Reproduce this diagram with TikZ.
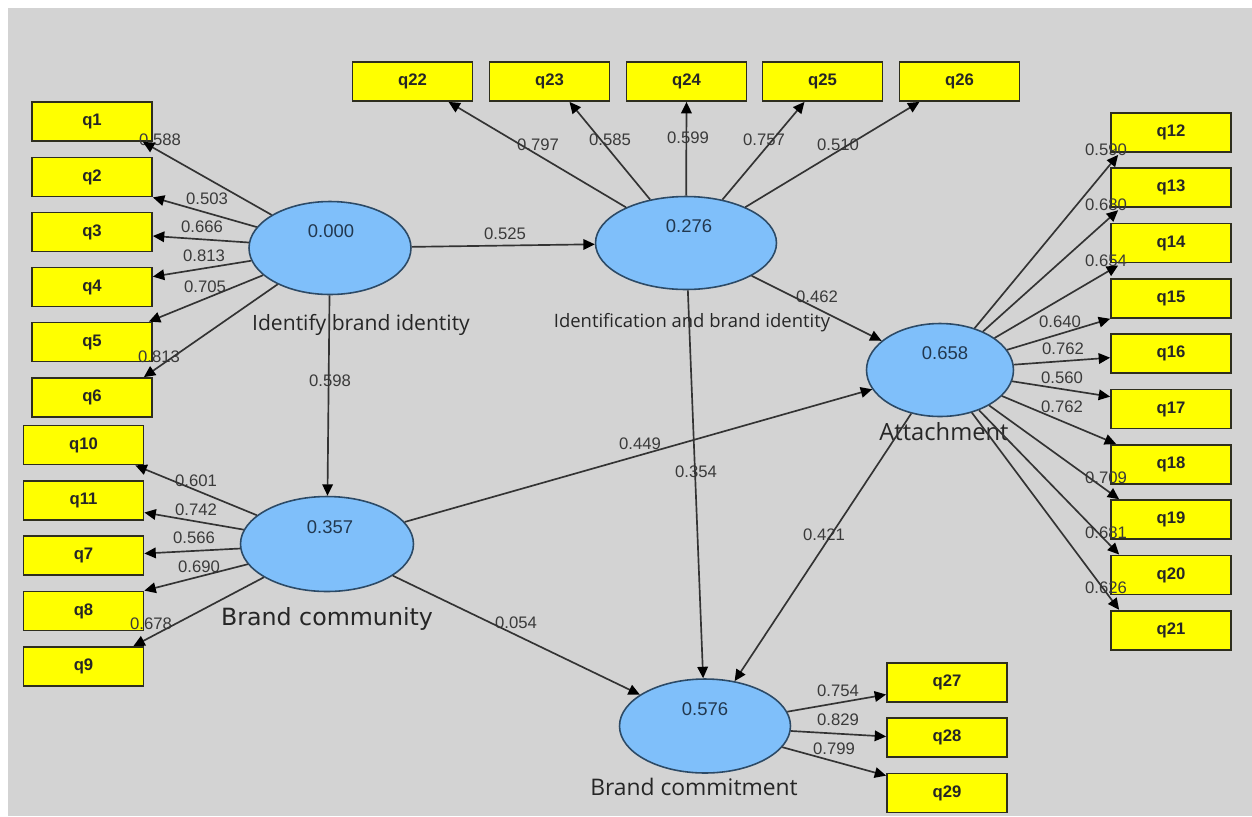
\documentclass[tikz,border=0pt]{standalone}
\usepackage{fontspec}
\setmainfont{Liberation Sans}
\newfontfamily\osans{Open Sans}
\newfontfamily\dvsans{DejaVu Sans}
\usetikzlibrary{shapes.geometric,arrows.meta,calc}
\definecolor{bgc}{HTML}{D3D3D3}
\definecolor{boxc}{HTML}{2E2E1E}
\definecolor{indf}{HTML}{FFFF00}
\definecolor{ellf}{HTML}{7FBFFA}
\definecolor{ellc}{HTML}{2C4A66}
\definecolor{elltext}{HTML}{22384F}
\definecolor{linec}{HTML}{333333}
\definecolor{lblc}{HTML}{3A3A3A}
\tikzset{
  ind/.style={draw=boxc, fill=indf, line width=1pt, minimum width=2.4cm, minimum height=0.78cm, inner sep=0pt, font=\fontsize{9.5}{10}\selectfont\bfseries, text=black!85},
  lat/.style={ellipse, draw=ellc, fill=ellf, line width=0.9pt, inner sep=0pt},
  latnum/.style={font=\fontsize{10.5}{11}\selectfont, text=elltext},
  arr/.style={draw=linec, line width=0.95pt, -{Triangle[length=6.5pt,width=6pt,color=black,fill=black]}},
  lbl/.style={font=\fontsize{9.5}{10}\selectfont, text=lblc, inner sep=0pt},
  lname/.style={inner sep=0pt, text=black!85}
}
\begin{document}
\begin{tikzpicture}[x=0.02cm,y=-0.02cm]
\fill[white] (0,0) rectangle (1252,816);
\fill[bgc] (8,8) rectangle (1252,816);
\useasboundingbox (0,0) rectangle (1252,816);

% latent variables
\node[lat, minimum width=3.24cm, minimum height=1.86cm] (E1) at (330,248) {};
\node[lat, minimum width=3.62cm, minimum height=1.86cm] (E2) at (686,243) {};
\node[lat, minimum width=3.46cm, minimum height=1.9cm] (E3) at (327,544) {};
\node[lat, minimum width=2.94cm, minimum height=1.86cm] (E4) at (940,370) {};
\node[lat, minimum width=3.42cm, minimum height=1.88cm] (E5) at (705,726) {};
\node[latnum] (v1) at (331,231) {0.000};
\node[latnum] (v2) at (689,226) {0.276};
\node[latnum] (v3) at (330,527) {0.357};
\node[latnum] (v4) at (945,353) {0.658};
\node[latnum] (v5) at (705,709) {0.576};

% latent names
\node[lname, font=\osans\fontsize{12}{13}\selectfont] (n1) at (361,325) {Identify brand identity};
\node[lname, font=\osans\fontsize{10.5}{11}\selectfont] (n2) at (692,323) {Identification and brand identity};
\node[lname, font=\dvsans\fontsize{13.5}{14}\selectfont] (n3) at (327,619) {Brand community};
\node[lname, font=\osans\fontsize{13.5}{14}\selectfont] (n4) at (944,432) {Attachment};
\node[lname, font=\osans\fontsize{13}{14}\selectfont] (n5) at (694,787) {Brand commitment};

% indicators
\node[ind] (q1) at (92,121.5) {q1};
\node[ind] (q2) at (92,177) {q2};
\node[ind] (q3) at (92,232) {q3};
\node[ind] (q4) at (92,287) {q4};
\node[ind] (q5) at (92,342) {q5};
\node[ind] (q6) at (92,397.5) {q6};
\node[ind] (q10) at (83.5,445) {q10};
\node[ind] (q11) at (83.5,500.5) {q11};
\node[ind] (q7) at (83.5,555.5) {q7};
\node[ind] (q8) at (83.5,611) {q8};
\node[ind] (q9) at (83.5,666.5) {q9};
\node[ind] (q22) at (412.5,81.5) {q22};
\node[ind] (q23) at (549.5,81.5) {q23};
\node[ind] (q24) at (686.5,81.5) {q24};
\node[ind] (q25) at (822.5,81.5) {q25};
\node[ind] (q26) at (959.5,81.5) {q26};
\node[ind] (q12) at (1171,132.5) {q12};
\node[ind] (q13) at (1171,187.8) {q13};
\node[ind] (q14) at (1171,243.1) {q14};
\node[ind] (q15) at (1171,298.4) {q15};
\node[ind] (q16) at (1171,353.7) {q16};
\node[ind] (q17) at (1171,409) {q17};
\node[ind] (q18) at (1171,464.3) {q18};
\node[ind] (q19) at (1171,519.6) {q19};
\node[ind] (q20) at (1171,574.9) {q20};
\node[ind] (q21) at (1171,630.2) {q21};
\node[ind] (q27) at (947,682.5) {q27};
\node[ind] (q28) at (947,737.5) {q28};
\node[ind] (q29) at (947,793) {q29};

% path coefficient / loading labels
\node[lbl] (l1) at (160,140) {0.588};
\node[lbl] (l2) at (207,199) {0.503};
\node[lbl] (l3) at (202,227) {0.666};
\node[lbl] (l4) at (204,256) {0.813};
\node[lbl] (l5) at (205,287) {0.705};
\node[lbl] (l6) at (159,357) {0.813};
\node[lbl] (l10) at (196,481) {0.601};
\node[lbl] (l11) at (196,510) {0.742};
\node[lbl] (l7) at (194,538) {0.566};
\node[lbl] (l8) at (199,567) {0.690};
\node[lbl] (l9) at (151,624) {0.678};
\node[lbl] (l22) at (538,145) {0.797};
\node[lbl] (l23) at (610,140) {0.585};
\node[lbl] (l24) at (688,138) {0.599};
\node[lbl] (l25) at (764,140) {0.757};
\node[lbl] (l26) at (838,145) {0.510};
\node[lbl] (l12) at (1106,150) {0.590};
\node[lbl] (l13) at (1106,205) {0.680};
\node[lbl] (l14) at (1106,261) {0.654};
\node[lbl] (l15) at (1060,322) {0.640};
\node[lbl] (l16) at (1063,349) {0.762};
\node[lbl] (l17) at (1062,378) {0.560};
\node[lbl] (l18) at (1062,407) {0.762};
\node[lbl] (l19) at (1106,478) {0.709};
\node[lbl] (l20) at (1106,533) {0.681};
\node[lbl] (l21) at (1106,588) {0.626};
\node[lbl] (l27) at (838,691) {0.754};
\node[lbl] (l28) at (838,720) {0.829};
\node[lbl] (l29) at (834,749) {0.799};
\node[lbl] (p12) at (505,234) {0.525};
\node[lbl] (p24) at (817,297) {0.462};
\node[lbl] (p13) at (330,381) {0.598};
\node[lbl] (p34) at (640,444) {0.449};
\node[lbl] (p25) at (696,472) {0.354};
\node[lbl] (p45) at (824,535) {0.421};
\node[lbl] (p35) at (516,623) {0.054};

% structural paths
\draw[arr] (E1) -- (E2);
\draw[arr] (E2) -- (E4);
\draw[arr] (E1) -- (E3);
\draw[arr] (E3) -- (E4);
\draw[arr] (E2) -- (E5);
\draw[arr] (E4) -- (E5);
\draw[arr] (E3) -- (E5);

% loadings: Identify brand identity
\draw[arr] (E1) -- ($(q1.south east)+(-10,0)$);
\draw[arr] (E1) -- (q2.south east);
\draw[arr] (E1) -- ($(q3.east)+(0,4)$);
\draw[arr] (E1) -- ($(q4.north east)+(0,10)$);
\draw[arr] (E1) -- ($(q5.north east)+(-4,0)$);
\draw[arr] (E1) -- ($(q6.north east)+(-9,0)$);
% Brand community
\draw[arr] (E3) -- ($(q10.south east)+(-9,0)$);
\draw[arr] (E3) -- ($(q11.east)+(0,12)$);
\draw[arr] (E3) -- ($(q7.east)+(0,-2)$);
\draw[arr] (E3) -- (q8.north east);
\draw[arr] (E3) -- ($(q9.north east)+(-11,0)$);
% Identification and brand identity
\draw[arr] (E2) -- ($(q22.south)+(36,0)$);
\draw[arr] (E2) -- ($(q23.south)+(20,0)$);
\draw[arr] (E2) -- (q24.south);
\draw[arr] (E2) -- ($(q25.south)+(-18,0)$);
\draw[arr] (E2) -- ($(q26.south)+(-40,0)$);
% Attachment
\draw[arr] (E4) -- ($(q12.south west)+(8,2)$);
\draw[arr] (E4) -- ($(q13.south west)+(8,2)$);
\draw[arr] (E4) -- ($(q14.south west)+(8,2)$);
\draw[arr] (E4) -- (q15.south west);
\draw[arr] (E4) -- ($(q16.west)+(0,4)$);
\draw[arr] (E4) -- ($(q17.north west)+(0,8)$);
\draw[arr] (E4) -- ($(q18.north west)+(6,0)$);
\draw[arr] (E4) -- ($(q19.north west)+(9,0)$);
\draw[arr] (E4) -- ($(q20.north west)+(9,0)$);
\draw[arr] (E4) -- ($(q21.north west)+(9,0)$);
% Brand commitment
\draw[arr] (E5) -- ($(q27.west)+(0,12)$);
\draw[arr] (E5) -- ($(q28.west)+(0,-1)$);
\draw[arr] (E5) -- ($(q29.north west)+(0,3)$);
\end{tikzpicture}
\end{document}
